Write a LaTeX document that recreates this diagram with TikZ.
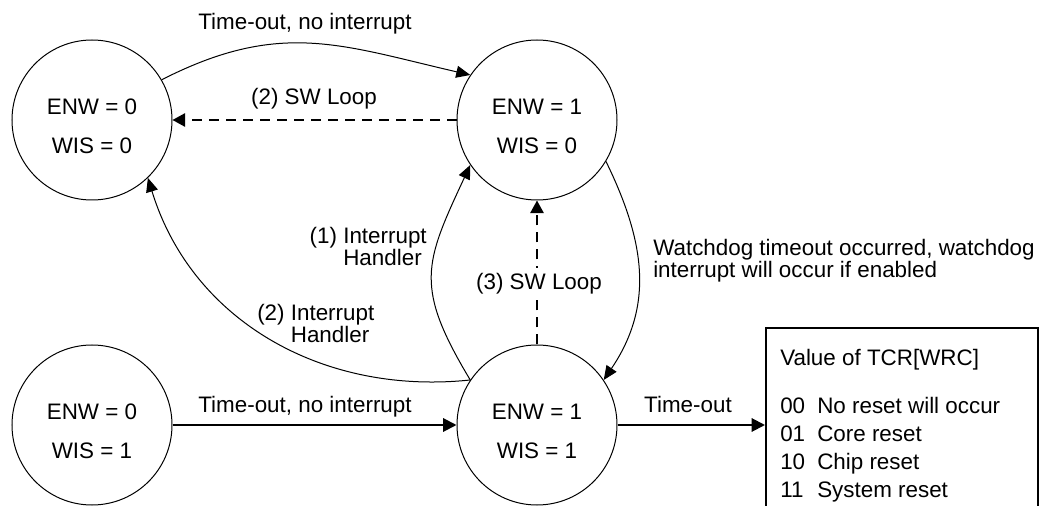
\documentclass[tikz,border=0pt]{standalone}
\usepackage{fontspec}
\setmainfont{Liberation Sans}
\usetikzlibrary{arrows.meta}
\begin{document}
\begin{tikzpicture}[x=0.75pt,y=0.75pt,
  every node/.style={font={\fontsize{16.8}{16.5}\selectfont\lineskiplimit=-20pt}},
  state/.style={draw, circle, minimum size=120pt, inner sep=0pt, line width=0.75pt},
  stxt/.style={align=center, inner sep=0pt, font={\fontsize{16.8}{29.25}\selectfont}},
  lbl/.style={inner sep=0pt},
  curvearrow/.style={line width=0.75pt, -{Triangle[length=10.5pt,width=9pt]}},
  straightarrow/.style={line width=1.5pt, -{Triangle[length=10pt,width=10pt]}},
  dasharrow/.style={line width=1.5pt, dash pattern=on 7.5pt off 5.25pt, -{Triangle[length=9.5pt,width=10pt]}},
  wrcbox/.style={draw, line width=1.5pt, rectangle, minimum width=204pt, minimum height=165pt, inner sep=0pt, anchor=north west}
]
\useasboundingbox (0,0) rectangle (1040,-506);
\clip (0,0) rectangle (1040,-506);

\node[state] (a) at (92,-120) {};
\node[state] (b) at (537,-120) {};
\node[state] (c) at (92,-425) {};
\node[state] (d) at (537,-425) {};
\node[stxt] (at) at (92,-126) {ENW = 0\\WIS = 0};
\node[stxt] (bt) at (537,-126) {ENW = 1\\WIS = 0};
\node[stxt] (ct) at (92,-431) {ENW = 0\\WIS = 1};
\node[stxt] (dt) at (537,-431) {ENW = 1\\WIS = 1};

\node[wrcbox] (w) at (765,-327) {};
\node[lbl, align=left, anchor=north west, font={\fontsize{16.8}{21}\selectfont}] (wt) at (780,-348.7) {Value of TCR[WRC]\\[15pt]
 \makebox[27.75pt][l]{00}No reset will occur\\
 \makebox[27.75pt][l]{01}Core reset\\
 \makebox[27.75pt][l]{10}Chip reset\\
 \makebox[27.75pt][l]{11}System reset};

\draw[curvearrow] (a.30) to[out=27,in=167,looseness=1.1] (b.146);
\draw[dasharrow] (b.west) -- (a.east);
\draw[curvearrow] (d.146) to[out=186,in=-73] (a.-46);
\draw[curvearrow] (d.146) to[out=121,in=245,looseness=1.3] (b.214);
\draw[curvearrow] (b.-31) to[out=-64,in=56,looseness=1.05] (d.34);
\draw[straightarrow] (c.east) -- (d.west);
\draw[straightarrow] (d.east) -- (d.east -| w.west);
\draw[dasharrow] (d.north) -- (b.south);

\node[lbl, anchor=base] (l1) at (305,-30) {Time-out, no interrupt};
\node[lbl, anchor=base] (l2) at (314,-105) {(2) SW Loop};
\node[lbl, align=left, anchor=north east] (l3) at (427,-226.7) {(1) Interrupt\\\phantom{(1) }Handler};
\node[lbl, align=left, anchor=north west] (l4) at (257,-303.7) {(2) Interrupt\\\phantom{(2) }Handler};
\node[anchor=base, fill=white, inner xsep=2pt, inner ysep=4pt] (l5) at (539,-290) {(3) SW Loop};
\node[lbl, align=left, anchor=north west] (l6) at (653,-239) {Watchdog timeout occurred, watchdog\\interrupt will occur if enabled};
\node[lbl, anchor=base] (l7) at (305,-412) {Time-out, no interrupt};
\node[lbl, anchor=base] (l8) at (688,-412) {Time-out};
\end{tikzpicture}
\end{document}
